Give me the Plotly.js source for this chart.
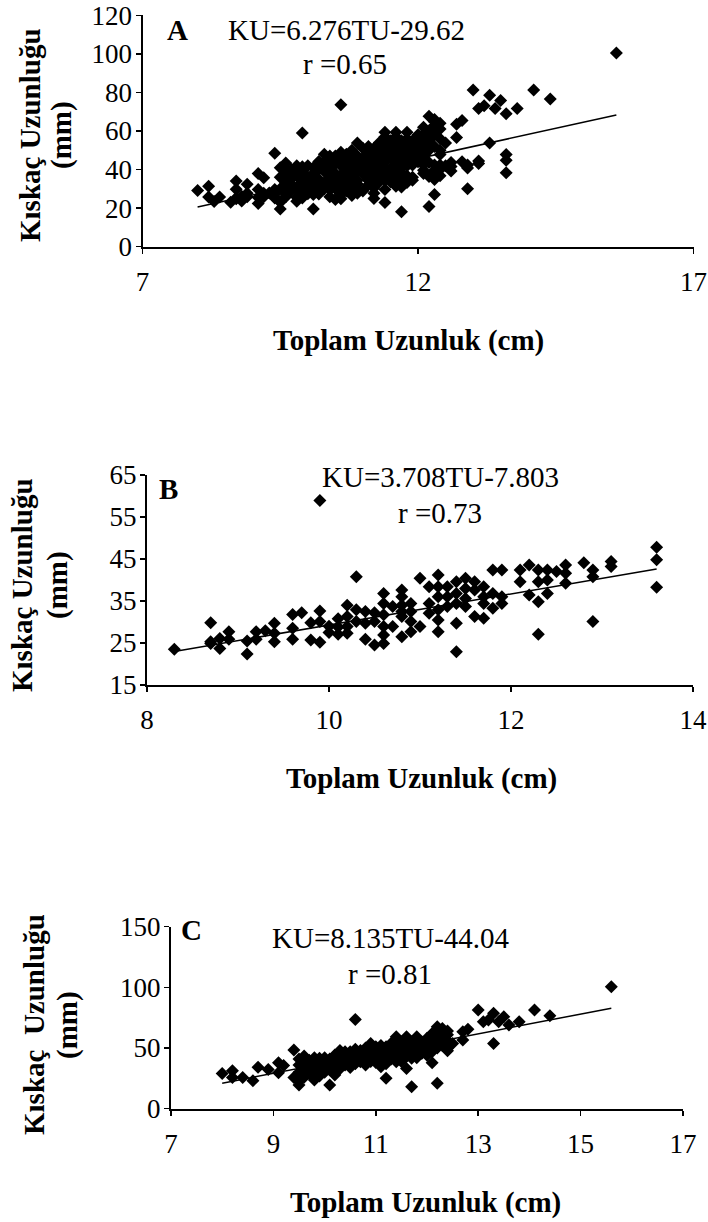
<!DOCTYPE html>
<html>
<head>
<meta charset="utf-8">
<script src="https://cdn.plot.ly/plotly-3.0.1.min.js"></script>
<style>
  html, body { margin: 0; padding: 0; background: #fff; }
  #chart { width: 708px; height: 1222px; }
</style>
</head>
<body>
<div id="chart"></div>
<script>
// Total length (cm) vs claw length (mm), [TU, KU] pairs.
// Group B
const pointsB = [
  [8.3,23.5],[8.7,29.8],[8.7,25.3],[8.7,24.9],[8.8,23.7],[8.8,26.1],[8.9,27.7],[8.9,25.9],
  [9.1,25.5],[9.1,22.4],[9.2,27.7],[9.2,25.9],[9.3,27.9],[9.4,29.7],[9.4,27.3],[9.4,25.3],
  [9.6,31.8],[9.6,28.5],[9.6,25.9],[9.7,32.2],[9.8,29.8],[9.8,25.7],[9.9,58.9],[9.9,32.6],
  [9.9,30.1],[9.9,25.2],[10.0,29.0],[10.0,27.5],[10.1,30.8],[10.1,28.8],[10.1,27.1],[10.2,34.0],
  [10.2,31.3],[10.2,28.9],[10.2,27.3],[10.3,40.8],[10.3,32.9],[10.3,30.1],[10.4,32.5],[10.4,29.7],
  [10.4,25.9],[10.5,32.2],[10.5,30.1],[10.5,24.5],[10.6,36.8],[10.6,34.4],[10.6,31.7],[10.6,28.9],
  [10.6,26.9],[10.6,24.9],[10.7,33.7],[10.7,28.9],[10.8,37.6],[10.8,36.0],[10.8,34.0],[10.8,32.5],
  [10.8,31.3],[10.8,26.5],[10.9,34.4],[10.9,32.5],[10.9,30.1],[10.9,27.7],[11.0,40.4],[11.0,28.9],
  [11.1,38.4],[11.1,34.4],[11.1,32.1],[11.2,41.2],[11.2,38.4],[11.2,36.0],[11.2,32.9],[11.2,30.5],
  [11.2,27.7],[11.3,38.4],[11.3,36.0],[11.3,33.7],[11.4,39.6],[11.4,36.8],[11.4,34.4],[11.4,29.7],
  [11.4,22.9],[11.5,40.4],[11.5,38.0],[11.5,35.6],[11.5,33.7],[11.6,39.6],[11.6,37.6],[11.6,31.3],
  [11.7,38.4],[11.7,36.0],[11.7,34.4],[11.7,30.9],[11.8,42.4],[11.8,36.8],[11.8,33.3],[11.9,42.4],
  [11.9,36.0],[11.9,34.4],[12.1,42.4],[12.1,39.6],[12.2,43.6],[12.2,36.4],[12.3,42.4],[12.3,39.6],
  [12.3,34.8],[12.3,27.1],[12.4,42.4],[12.4,40.0],[12.4,36.8],[12.5,42.0],[12.6,43.6],[12.6,41.6],
  [12.6,39.2],[12.8,44.1],[12.9,42.4],[12.9,40.8],[12.9,30.1],[13.1,44.4],[13.1,43.2],[13.6,47.8],
  [13.6,44.8],[13.6,38.3]
];

// Group C
const pointsC = [
  [8.0,29.1],[8.2,31.3],[8.2,25.8],[8.4,25.8],[8.6,23.1],[8.7,34.1],[8.9,32.4],[9.1,37.9],
  [9.1,29.7],[9.2,35.7],[9.4,48.4],[9.4,25.8],[9.5,23.1],[9.5,19.5],[9.6,40.1],[9.6,27.7],
  [9.6,43.4],[9.8,23.6],[9.9,41.5],[10.1,19.5],[10.2,27.7],[10.0,34.6],[10.2,44.2],[10.4,47.0],
  [10.6,73.6],[10.6,45.6],[10.7,38.7],[10.9,53.8],[11.0,51.1],[11.1,34.6],[11.2,25.0],[11.4,59.3],
  [11.4,38.7],[11.6,33.2],[11.6,59.3],[11.7,18.1],[11.7,41.5],[11.8,59.3],[11.9,45.6],[12.1,58.0],
  [12.1,37.9],[12.2,20.9],[12.2,67.6],[12.3,64.8],[12.4,47.8],[12.5,53.8],[12.7,56.6],[12.7,63.5],
  [12.8,65.4],[13.0,81.3],[13.1,71.7],[13.2,73.1],[13.3,78.6],[13.3,53.8],[13.4,71.7],[13.5,75.8],
  [13.6,69.0],[13.8,71.7],[14.1,81.3],[14.4,76.6],[15.6,100.5],
  [9.5,30],[9.5,36],[9.5,41],[9.6,26],[9.6,33],[9.6,38],[9.7,29],[9.7,35],[9.7,40],
  [9.8,31],[9.8,37],[9.8,42],[9.9,27],[9.9,34],[9.9,39],[10.0,30],[10.0,36],[10.0,42],
  [10.1,32],[10.1,38],[10.1,41],[10.2,29],[10.2,35],[10.2,40],[10.3,33],[10.3,39],[10.3,44],
  [10.3,48],[10.4,36],[10.4,41],[10.4,45],[10.5,34],[10.5,38],[10.5,43],[10.5,47],[10.6,37],
  [10.6,42],[10.6,49],[10.7,40],[10.7,44],[10.7,48],[10.8,36],[10.8,41],[10.8,45],[10.8,50],
  [10.9,39],[10.9,43],[10.9,47],[11.0,38],[11.0,42],[11.0,46],[11.1,40],[11.1,44],[11.1,48],
  [11.1,52],[11.2,37],[11.2,43],[11.2,47],[11.2,51],[11.3,41],[11.3,45],[11.3,49],[11.3,54],
  [11.4,44],[11.4,48],[11.4,52],[11.4,57],[11.5,39],[11.5,46],[11.5,50],[11.5,55],[11.6,43],
  [11.6,47],[11.6,53],[11.6,57],[11.7,45],[11.7,50],[11.7,55],[11.8,42],[11.8,48],[11.8,52],
  [11.8,56],[11.9,46],[11.9,51],[11.9,55],[12.0,44],[12.0,49],[12.0,53],[12.0,58],[12.1,47],
  [12.1,52],[12.1,56],[12.1,62],[12.2,50],[12.2,55],[12.2,60],[12.3,52],[12.3,58],[12.3,63],
  [12.3,66],[12.4,50],[12.4,56],[12.4,61],[12.4,64]
];

// Group A holds every specimen of B and C together.
const pointsA = pointsB.concat(pointsC);

// Regression lines KU = slope * TU + intercept, drawn across each group's TU span.
const panelLetter = ['A', 'B', 'C'];
const slope       = [6.276, 3.708, 8.135];
const intercept   = [-29.62, -7.803, -44.04];
const rValue      = ['0.65', '0.73', '0.81'];
const fitStart    = [8.0, 8.3, 8.0];
const fitEnd      = [15.6, 13.6, 15.6];

// Axis ranges and tick steps
const xRange = [[7, 17], [8, 14], [7, 17]];
const xStep  = [5, 2, 2];
const yRange = [[0, 120], [15, 65], [0, 150]];
const yStep  = [20, 10, 50];

const yTitleText = ['Kıskaç Uzunluğu', 'Kıskaç Uzunluğu', 'Kıskaç\u00a0\u00a0Uzunluğu'];
const xTitleText = 'Toplam Uzunluk (cm)';

const FONT = '"Liberation Serif", "Times New Roman", serif';
const W = 708, H = 1222;
const px = v => v / W;
const py = v => 1 - v / H;

// Plot frames in pixels: [left, right, top, bottom]
const frames = [
  [142.5, 693.5, 15.3, 246.7],
  [147, 693, 475, 685],
  [171, 683, 926.7, 1108.7]
];

const groups = [pointsA, pointsB, pointsC];
const traces = [];
const layout = {
  width: W, height: H,
  margin: {l: 0, r: 0, t: 0, b: 0},
  paper_bgcolor: '#fff', plot_bgcolor: '#fff',
  showlegend: false,
  font: {family: FONT, color: '#000'},
  annotations: []
};

function axisBase(domain, range, step, standoff) {
  return {
    domain: domain, range: range, tickmode: 'linear', tick0: range[0], dtick: step,
    showline: true, linecolor: '#000', linewidth: 2,
    ticks: 'outside', ticklen: 5, tickwidth: 1.5, tickcolor: '#000',
    showgrid: false, zeroline: false, fixedrange: true,
    ticklabelstandoff: standoff,
    tickfont: {family: FONT, size: 27, color: '#000'}
  };
}

groups.forEach((pts, i) => {
  const s = i === 0 ? '' : String(i + 1);
  const xa = 'x' + s, ya = 'y' + s;
  const f = frames[i];

  traces.push({
    type: 'scatter', mode: 'markers', xaxis: xa, yaxis: ya,
    x: pts.map(p => p[0]), y: pts.map(p => p[1]),
    marker: {symbol: 'diamond', size: 10, color: '#000', line: {width: 0}},
    hoverinfo: 'skip'
  });
  traces.push({
    type: 'scatter', mode: 'lines', xaxis: xa, yaxis: ya,
    x: [fitStart[i], fitEnd[i]],
    y: [slope[i] * fitStart[i] + intercept[i], slope[i] * fitEnd[i] + intercept[i]],
    line: {color: '#000', width: 1.5},
    hoverinfo: 'skip'
  });

  layout['xaxis' + s] = Object.assign(axisBase([px(f[0]), px(f[1])], xRange[i], xStep[i], 5), {anchor: ya});
  layout['yaxis' + s] = Object.assign(axisBase([py(f[3]), py(f[2])], yRange[i], yStep[i], -2), {anchor: xa});
});

// Text placement in pixels
const letterPos = [[177, 30], [168, 489], [191, 930]];
const eqPos     = [[346, 30], [440, 477], [391, 938]];
const rPos      = [[345, 64], [440, 513], [390, 974]];
const yTitlePos = [[30, 135, 61], [22, 585, 57], [34, 1025, 67]];
const xTitlePos = [[408, 341], [421, 778], [425, 1202]];

function note(text, x, y, size, extra) {
  layout.annotations.push(Object.assign({
    text: text, xref: 'paper', yref: 'paper', x: px(x), y: py(y),
    xanchor: 'center', yanchor: 'middle', showarrow: false,
    font: {family: FONT, size: size, color: '#000'}
  }, extra || {}));
}

for (let i = 0; i < 3; i++) {
  note('<b>' + panelLetter[i] + '</b>', letterPos[i][0], letterPos[i][1], 29);
  const ic = intercept[i] < 0 ? '-' + Math.abs(intercept[i]) : '+' + intercept[i];
  note('KU=' + slope[i] + 'TU' + ic, eqPos[i][0], eqPos[i][1], 29);
  note('r =' + rValue[i], rPos[i][0], rPos[i][1], 29);
  note('<b>' + yTitleText[i] + '</b>', yTitlePos[i][0], yTitlePos[i][1], 29, {textangle: -90});
  note('<b>(mm)</b>', yTitlePos[i][2], yTitlePos[i][1], 29, {textangle: -90});
  note('<b>' + xTitleText + '</b>', xTitlePos[i][0], xTitlePos[i][1], 29);
}

Plotly.newPlot('chart', traces, layout, {displayModeBar: false, staticPlot: true});
</script>
</body>
</html>
